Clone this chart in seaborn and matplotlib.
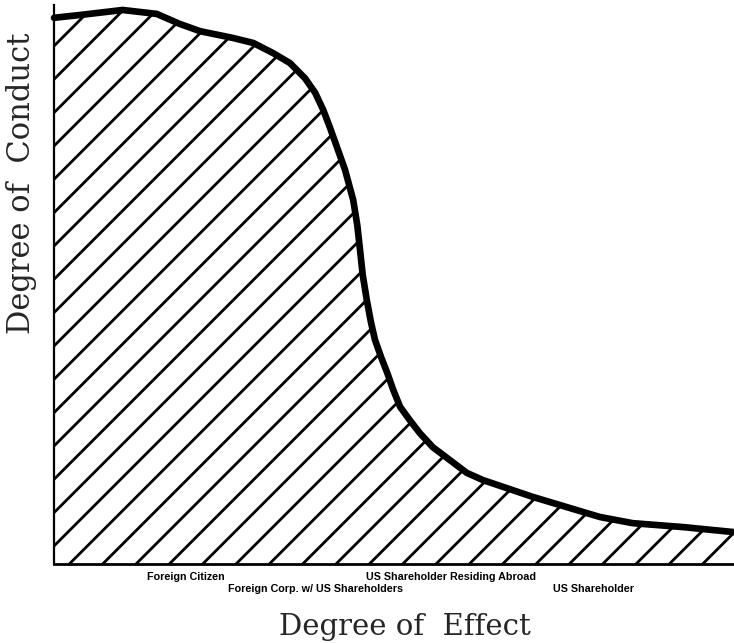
import seaborn as sns
import pandas as pd
import matplotlib.pyplot as plt

# curve (x: degree of effect, y: degree of conduct, both 0-100)
effect = [0.0, 3.8, 10.1, 15.1, 18.5, 21.5, 26.3, 29.3, 32.2, 34.7, 36.9, 38.4, 39.6, 40.6,
          41.6, 42.8, 44.0, 44.6, 45.0, 45.4, 46.0, 46.6, 47.2, 48.1, 49.0, 49.9, 50.9, 52.4,
          53.8, 55.7, 58.2, 60.7, 63.1, 70.4, 77.8, 80.3, 85.1, 92.5, 100]
conduct = [97.7, 98.2, 99.1, 98.4, 96.6, 95.3, 94.1, 93.2, 91.4, 89.6, 86.9, 84.3, 81.2, 78.0,
           74.6, 70.5, 65.1, 60.6, 56.2, 51.7, 47.2, 43.3, 40.1, 37.0, 34.2, 31.1, 28.1, 25.6,
           23.4, 20.9, 18.6, 16.3, 15.0, 12.0, 9.3, 8.4, 7.3, 6.6, 5.7]

# category labels under the x axis, two staggered rows
cat_labels = ["Foreign Citizen", "Foreign Corp. w/ US Shareholders",
              "US Shareholder Residing Abroad", "US Shareholder"]
cat_pos = [19.4, 38.4, 58.4, 79.4]
cat_row = [0, 1, 0, 1]

df = pd.DataFrame({"effect": effect, "conduct": conduct})

sns.set_style("ticks")
plt.rcParams["hatch.linewidth"] = 1.0
fig = plt.figure(figsize=(3.67, 3.215), dpi=200)
ax = fig.add_axes([0.0736, 0.1229, 0.9264, 0.8694])

# hatched area under the curve
ax.fill_between(df["effect"], 0, df["conduct"], facecolor="white", edgecolor="black",
                hatch="//", linewidth=0)
sns.lineplot(data=df, x="effect", y="conduct", color="black", linewidth=2.4,
             ax=ax, clip_on=False, solid_capstyle="round", solid_joinstyle="round")

ax.set_xlim(0, 100)
ax.set_ylim(0, 100)
ax.set_xticks([])
ax.set_yticks([])
ax.set_xlabel("")
ax.set_ylabel("")
sns.despine(ax=ax)
ax.spines["left"].set_linewidth(0.8)
ax.spines["bottom"].set_linewidth(1.0)
ax.spines["left"].set_color("black")
ax.spines["bottom"].set_color("black")

for lab, x, row in zip(cat_labels, cat_pos, cat_row):
    ax.text(x, -0.0233 - 0.0215 * row, lab, transform=ax.get_xaxis_transform(),
            ha="center", va="center", fontsize=3.9, fontweight="bold",
            family="Liberation Sans", color="black")

fig.text(405 / 734, 1 - 627 / 643, "Degree of  Effect", ha="center", va="center",
         fontsize=10.5, family="DejaVu Serif")
fig.text(22 / 734, 1 - 183 / 643, "Degree of  Conduct", ha="center", va="center",
         rotation=90, fontsize=11, family="DejaVu Serif")

fig.savefig("out.png", dpi=200)
